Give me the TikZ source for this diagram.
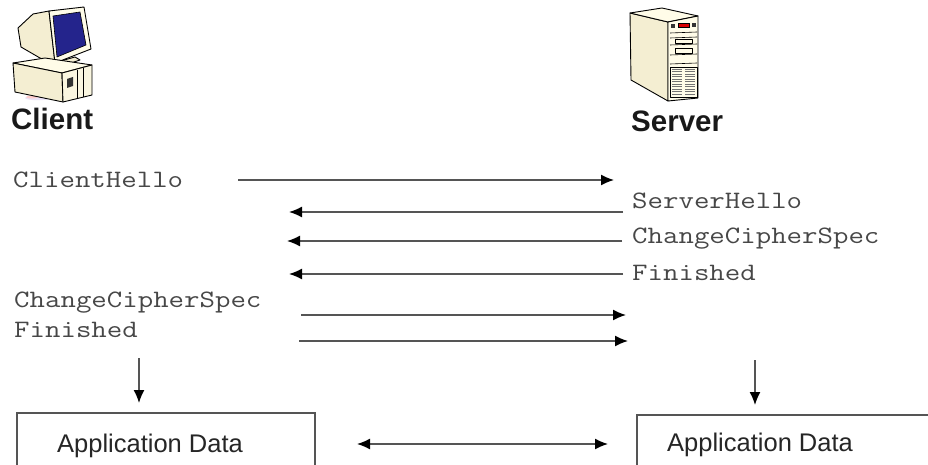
\documentclass[tikz,border=0pt]{standalone}
\usepackage{fontspec}
\usepackage{graphicx}
\setmainfont{Liberation Sans}
\usetikzlibrary{arrows.meta}
\definecolor{linegray}{HTML}{555555}
\definecolor{msgtext}{HTML}{474747}
\definecolor{beigeA}{HTML}{FFFCE8}
\definecolor{beigeB}{HTML}{F4EED2}
\definecolor{beigeC}{HTML}{FAF6E0}
\definecolor{screenblue}{HTML}{24248C}
% wide typewriter lettering for the handshake messages
\newcommand\wideTT[1]{\scalebox{1.2}[1]{#1}}
\tikzset{
  msg/.style={draw=linegray, line width=1.4pt,
    -{Latex[length=13pt,width=11pt,black]}},
  msgboth/.style={draw=linegray, line width=1.4pt,
    {Latex[length=13pt,width=11pt,black]}-{Latex[length=13pt,width=11pt,black]}},
  msglabel/.style={anchor=base west, inner sep=0pt, text=msgtext,
    font=\ttfamily\fontsize{25}{30}\selectfont},
  hostlabel/.style={anchor=base west, inner sep=0pt, text=black!90,
    font=\bfseries\fontsize{29.5}{34}\selectfont},
  appbox/.style={draw=linegray, line width=1.2pt, inner sep=0pt},
  applabel/.style={anchor=base west, inner sep=0pt, text=black!85,
    font=\fontsize{25.5}{30}\selectfont},
  part/.style={draw=black, line width=0.9pt, line join=round},
}
\begin{document}
\begin{tikzpicture}[x=1pt,y=-1pt]
\useasboundingbox (0,0) rectangle (928,465);
\clip (0,0) rectangle (928,465);
\fill[white] (0,0) rectangle (928,465);

% ---- client workstation ----
\fill[pink!60!blue!20] (38,98) ellipse (13 and 2.2);
\fill[pink!80] (32,97) ellipse (6 and 1.4);
% monitor casing
\filldraw[part, fill=beigeB] (33,14) -- (49,11) -- (55,63) -- (40,58) -- (21,47) -- (18,28) -- cycle;
% stand
\filldraw[part, fill=beigeB] (57,62) -- (75,57) -- (80,60) -- (62,66) -- cycle;
% bezel and screen
\filldraw[part, fill=beigeA] (49,11) -- (84,7) -- (91,49) -- (55,63) -- cycle;
\filldraw[part, fill=screenblue, line width=0.6pt] (53,16) -- (80,12) -- (86,45) -- (57,57) -- cycle;
% system unit
\filldraw[part, fill=beigeA] (13,63) -- (45,58) -- (92,65) -- (62,73) -- cycle;
\filldraw[part, fill=beigeB] (13,63) -- (62,73) -- (63,102) -- (15,92) -- cycle;
\filldraw[part, fill=beigeC] (62,73) -- (92,65) -- (92,95) -- (63,102) -- cycle;
\draw[part, line width=0.6pt] (77,70) -- (77,99) (83,68) -- (83,97);
\fill[black!80] (67,79) -- (73,77) -- (73,86) -- (67,88) -- cycle;

% ---- server tower ----
\filldraw[part, fill=beigeB] (630,13) -- (668,22) -- (668,101) -- (631,80) -- cycle;
\filldraw[part, fill=beigeA] (630,13) -- (662,8) -- (698,16) -- (668,22) -- cycle;
\filldraw[part, fill=beigeA] (668,22) -- (698,16) -- (698,98) -- (668,101) -- cycle;
\fill[black!80] (671,24) rectangle (675,28);
\filldraw[draw=black, line width=0.5pt, fill=red!85!black] (678,23) rectangle (689,27);
\fill[black!80] (692,23) rectangle (696,27);
\draw[part, line width=0.6pt]
  (670,33) -- (697,32) (670,38) -- (697,37) (670,45) -- (697,44)
  (670,55) -- (697,54) (670,64) -- (697,63);
\draw[part, line width=0.6pt] (675,39.5) rectangle (692,43) (675,48) rectangle (692,53);
\draw[part, line width=0.5pt] (670,67) rectangle (697,97);
\foreach \yy in {69,71.5,...,96}{
  \draw[black!55, line width=0.5pt] (672,\yy) -- (682,\yy) (685,\yy) -- (695,\yy);
}

% ---- host labels ----
\node[hostlabel] (client) at (11,130) {Client};
\node[hostlabel] (server) at (631,132) {Server};

% ---- handshake messages ----
\node[msglabel] (chello) at (13,187) {\wideTT{ClientHello}};
\node[msglabel] (shello) at (632,208) {\wideTT{ServerHello}};
\node[msglabel] (sccs)   at (632,243) {\wideTT{ChangeCipherSpec}};
\node[msglabel] (sfin)   at (632,280) {\wideTT{Finished}};
\node[msglabel] (cccs)   at (14,307) {\wideTT{ChangeCipherSpec}};
\node[msglabel] (cfin)   at (14,337) {\wideTT{Finished}};

\coordinate (a1s) at (238,180); \coordinate (a1e) at (614,180);
\coordinate (a2s) at (623,212); \coordinate (a2e) at (289,212);
\coordinate (a3s) at (622,241); \coordinate (a3e) at (287,241);
\coordinate (a4s) at (623,274); \coordinate (a4e) at (289,274);
\coordinate (a5s) at (301,315); \coordinate (a5e) at (626,315);
\coordinate (a6s) at (299,341); \coordinate (a6e) at (628,341);
\draw[msg] (a1s) -- (a1e);
\draw[msg] (a2s) -- (a2e);
\draw[msg] (a3s) -- (a3e);
\draw[msg] (a4s) -- (a4e);
\draw[msg] (a5s) -- (a5e);
\draw[msg] (a6s) -- (a6e);

% ---- application data ----
\node[appbox, minimum width=298pt, minimum height=90pt] (appL) at (166,458) {};
\node[appbox, minimum width=330pt, minimum height=90pt] (appR) at (802,460) {};
\node[applabel] (appLtxt) at (57,452) {Application Data};
\node[applabel] (appRtxt) at (667,451) {Application Data};

\coordinate (dLs) at (139,358); \coordinate (dLe) at (139,403);
\coordinate (dRs) at (755,360); \coordinate (dRe) at (755,405);
\draw[msg] (dLs) -- (dLe);
\draw[msg] (dRs) -- (dRe);

\coordinate (dataL) at (357,444); \coordinate (dataR) at (608,444);
\draw[msgboth] (dataL) -- (dataR);
\end{tikzpicture}
\end{document}
